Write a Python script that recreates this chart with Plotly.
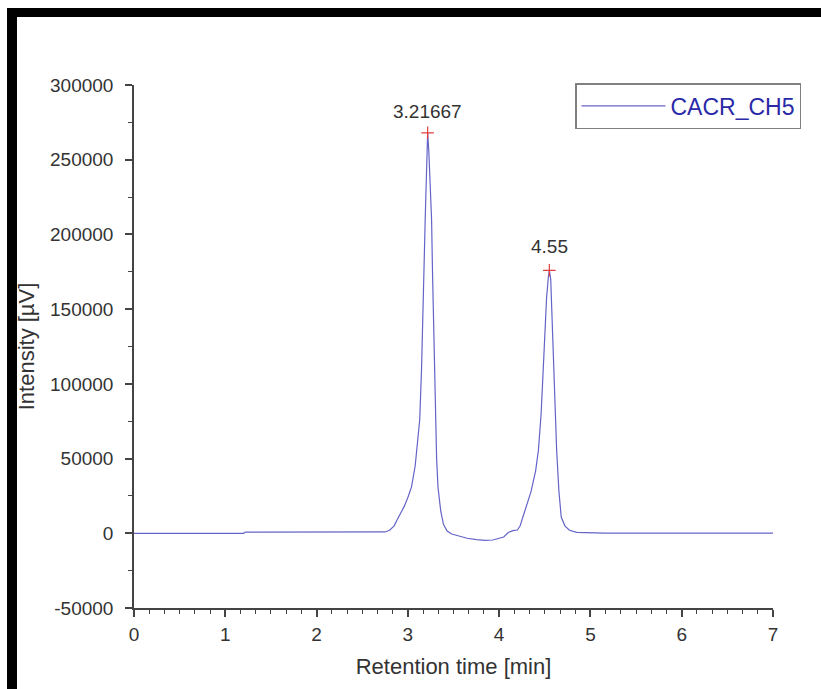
import plotly.graph_objects as go

# ---- data ----
retention_time = [0, 1.2, 1.22, 2.75, 2.8, 2.85, 2.88, 2.92, 2.96, 3.0, 3.04, 3.08, 3.11, 3.13,
                  3.15, 3.16, 3.18, 3.19, 3.205, 3.21667, 3.23, 3.245, 3.26, 3.27, 3.28, 3.29,
                  3.30, 3.315, 3.33, 3.36, 3.39, 3.43, 3.48, 3.55, 3.65, 3.75, 3.85, 3.93, 4.0,
                  4.05, 4.1, 4.15, 4.2, 4.23, 4.26, 4.3, 4.35, 4.4, 4.43, 4.46, 4.48, 4.50, 4.52,
                  4.54, 4.55, 4.565, 4.58, 4.60, 4.62, 4.63, 4.655, 4.68, 4.72, 4.77, 4.85, 5.1,
                  5.15, 7.0]
intensity = [0, 0, 800, 900, 2000, 5000, 8700, 13000, 18000, 24000, 31000, 45000, 62000, 76000,
             110000, 142000, 185000, 210000, 245000, 268000, 255000, 232000, 210000, 175000,
             142000, 105000, 75000, 50000, 31000, 15000, 6000, 1500, -500, -1800, -3300, -4300,
             -4700, -4500, -3500, -2500, 500, 1800, 2200, 5000, 10900, 18000, 28000, 42000,
             55500, 80000, 105000, 135000, 158000, 172000, 176000, 170000, 144000, 100000,
             70000, 55500, 28000, 10900, 5000, 2000, 600, 500, 100, 100]

peak_times = [3.21667, 4.55]
peak_heights = [268000, 176000]
peak_labels = ["3.21667", "4.55"]
peak_label_shift = [21, 24]

y_tick_values = [-50000, 0, 50000, 100000, 150000, 200000, 250000, 300000]
y_tick_labels = ["-50000", "0", "50000", "100000", "150000", "200000", "250000", "300000"]
x_tick_values = [0, 1, 2, 3, 4, 5, 6, 7]
x_tick_labels = ["0", "1", "2", "3", "4", "5", "6", "7"]

series_name = "CACR_CH5"
x_title = "Retention time [min]"
y_title = "Intensity [µV]"

W, H = 821, 689
L, R, T, B = 134, 48, 85, 81
FONT = "Liberation Sans, Arial, sans-serif"

def px_x(p):
    return (p - L) / (W - L - R)

def px_y(p):
    return (H - B - p) / (H - B - T)

fig = go.Figure()
fig.add_trace(go.Scatter(
    x=retention_time, y=intensity, mode="lines", name=series_name,
    line=dict(color="#6464c8", width=1.2), showlegend=True,
))
fig.add_trace(go.Scatter(
    x=peak_times, y=peak_heights, mode="markers", showlegend=False,
    marker=dict(symbol="cross-thin", size=9, line=dict(color="#e04040", width=1.2)),
))

for t, h, lab, s in zip(peak_times, peak_heights, peak_labels, peak_label_shift):
    fig.add_annotation(x=t, y=h, text=lab, showarrow=False, yanchor="middle", yshift=s,
                       font=dict(family=FONT, size=19, color="#333333"))

shapes = [
    dict(type="rect", xref="paper", yref="paper", x0=px_x(7), x1=px_x(17),
         y0=px_y(700), y1=px_y(8), fillcolor="black", line=dict(width=0), layer="above"),
    dict(type="rect", xref="paper", yref="paper", x0=px_x(7), x1=px_x(830),
         y0=px_y(17), y1=px_y(8), fillcolor="black", line=dict(width=0), layer="above"),
]

fig.update_layout(
    width=W, height=H,
    margin=dict(l=L, r=R, t=T, b=B, autoexpand=False),
    paper_bgcolor="white", plot_bgcolor="white",
    font=dict(family=FONT, color="#333333"),
    shapes=shapes,
    legend=dict(
        x=px_x(575), y=px_y(83), xanchor="left", yanchor="top",
        bordercolor="#808080", borderwidth=1.5, bgcolor="white",
        font=dict(family=FONT, size=23, color="#2a2aa8"),
        itemwidth=84, tracegroupgap=0,
    ),
    xaxis=dict(
        range=[0, 7], tickmode="array", tickvals=x_tick_values, ticktext=x_tick_labels,
        showgrid=False, zeroline=False,
        showline=True, linecolor="#444444", linewidth=1.5,
        ticks="outside", ticklen=7, tickwidth=1.5, tickcolor="#444444",
        ticklabelstandoff=1,
        tickfont=dict(family=FONT, size=19, color="#333333"),
        minor=dict(dtick=1/6, tick0=0, ticks="outside", ticklen=4, tickcolor="#444444", tickwidth=1.2),
        title=dict(text=x_title, font=dict(family=FONT, size=22, color="#333333"), standoff=15),
        fixedrange=True,
    ),
    yaxis=dict(
        range=[-50000, 300000], tickmode="array", tickvals=y_tick_values, ticktext=y_tick_labels,
        showgrid=False, zeroline=False,
        showline=True, linecolor="#444444", linewidth=1.5,
        ticks="outside", ticklen=7, tickwidth=1.5, tickcolor="#444444",
        ticklabelstandoff=8,
        tickfont=dict(family=FONT, size=19, color="#333333"),
        minor=dict(dtick=25000, tick0=0, ticks="outside", ticklen=4, tickcolor="#444444", tickwidth=1.2),
        title=dict(text=y_title, font=dict(family=FONT, size=22, color="#333333"), standoff=9),
        fixedrange=True,
    ),
)

fig.write_html("out.html")
